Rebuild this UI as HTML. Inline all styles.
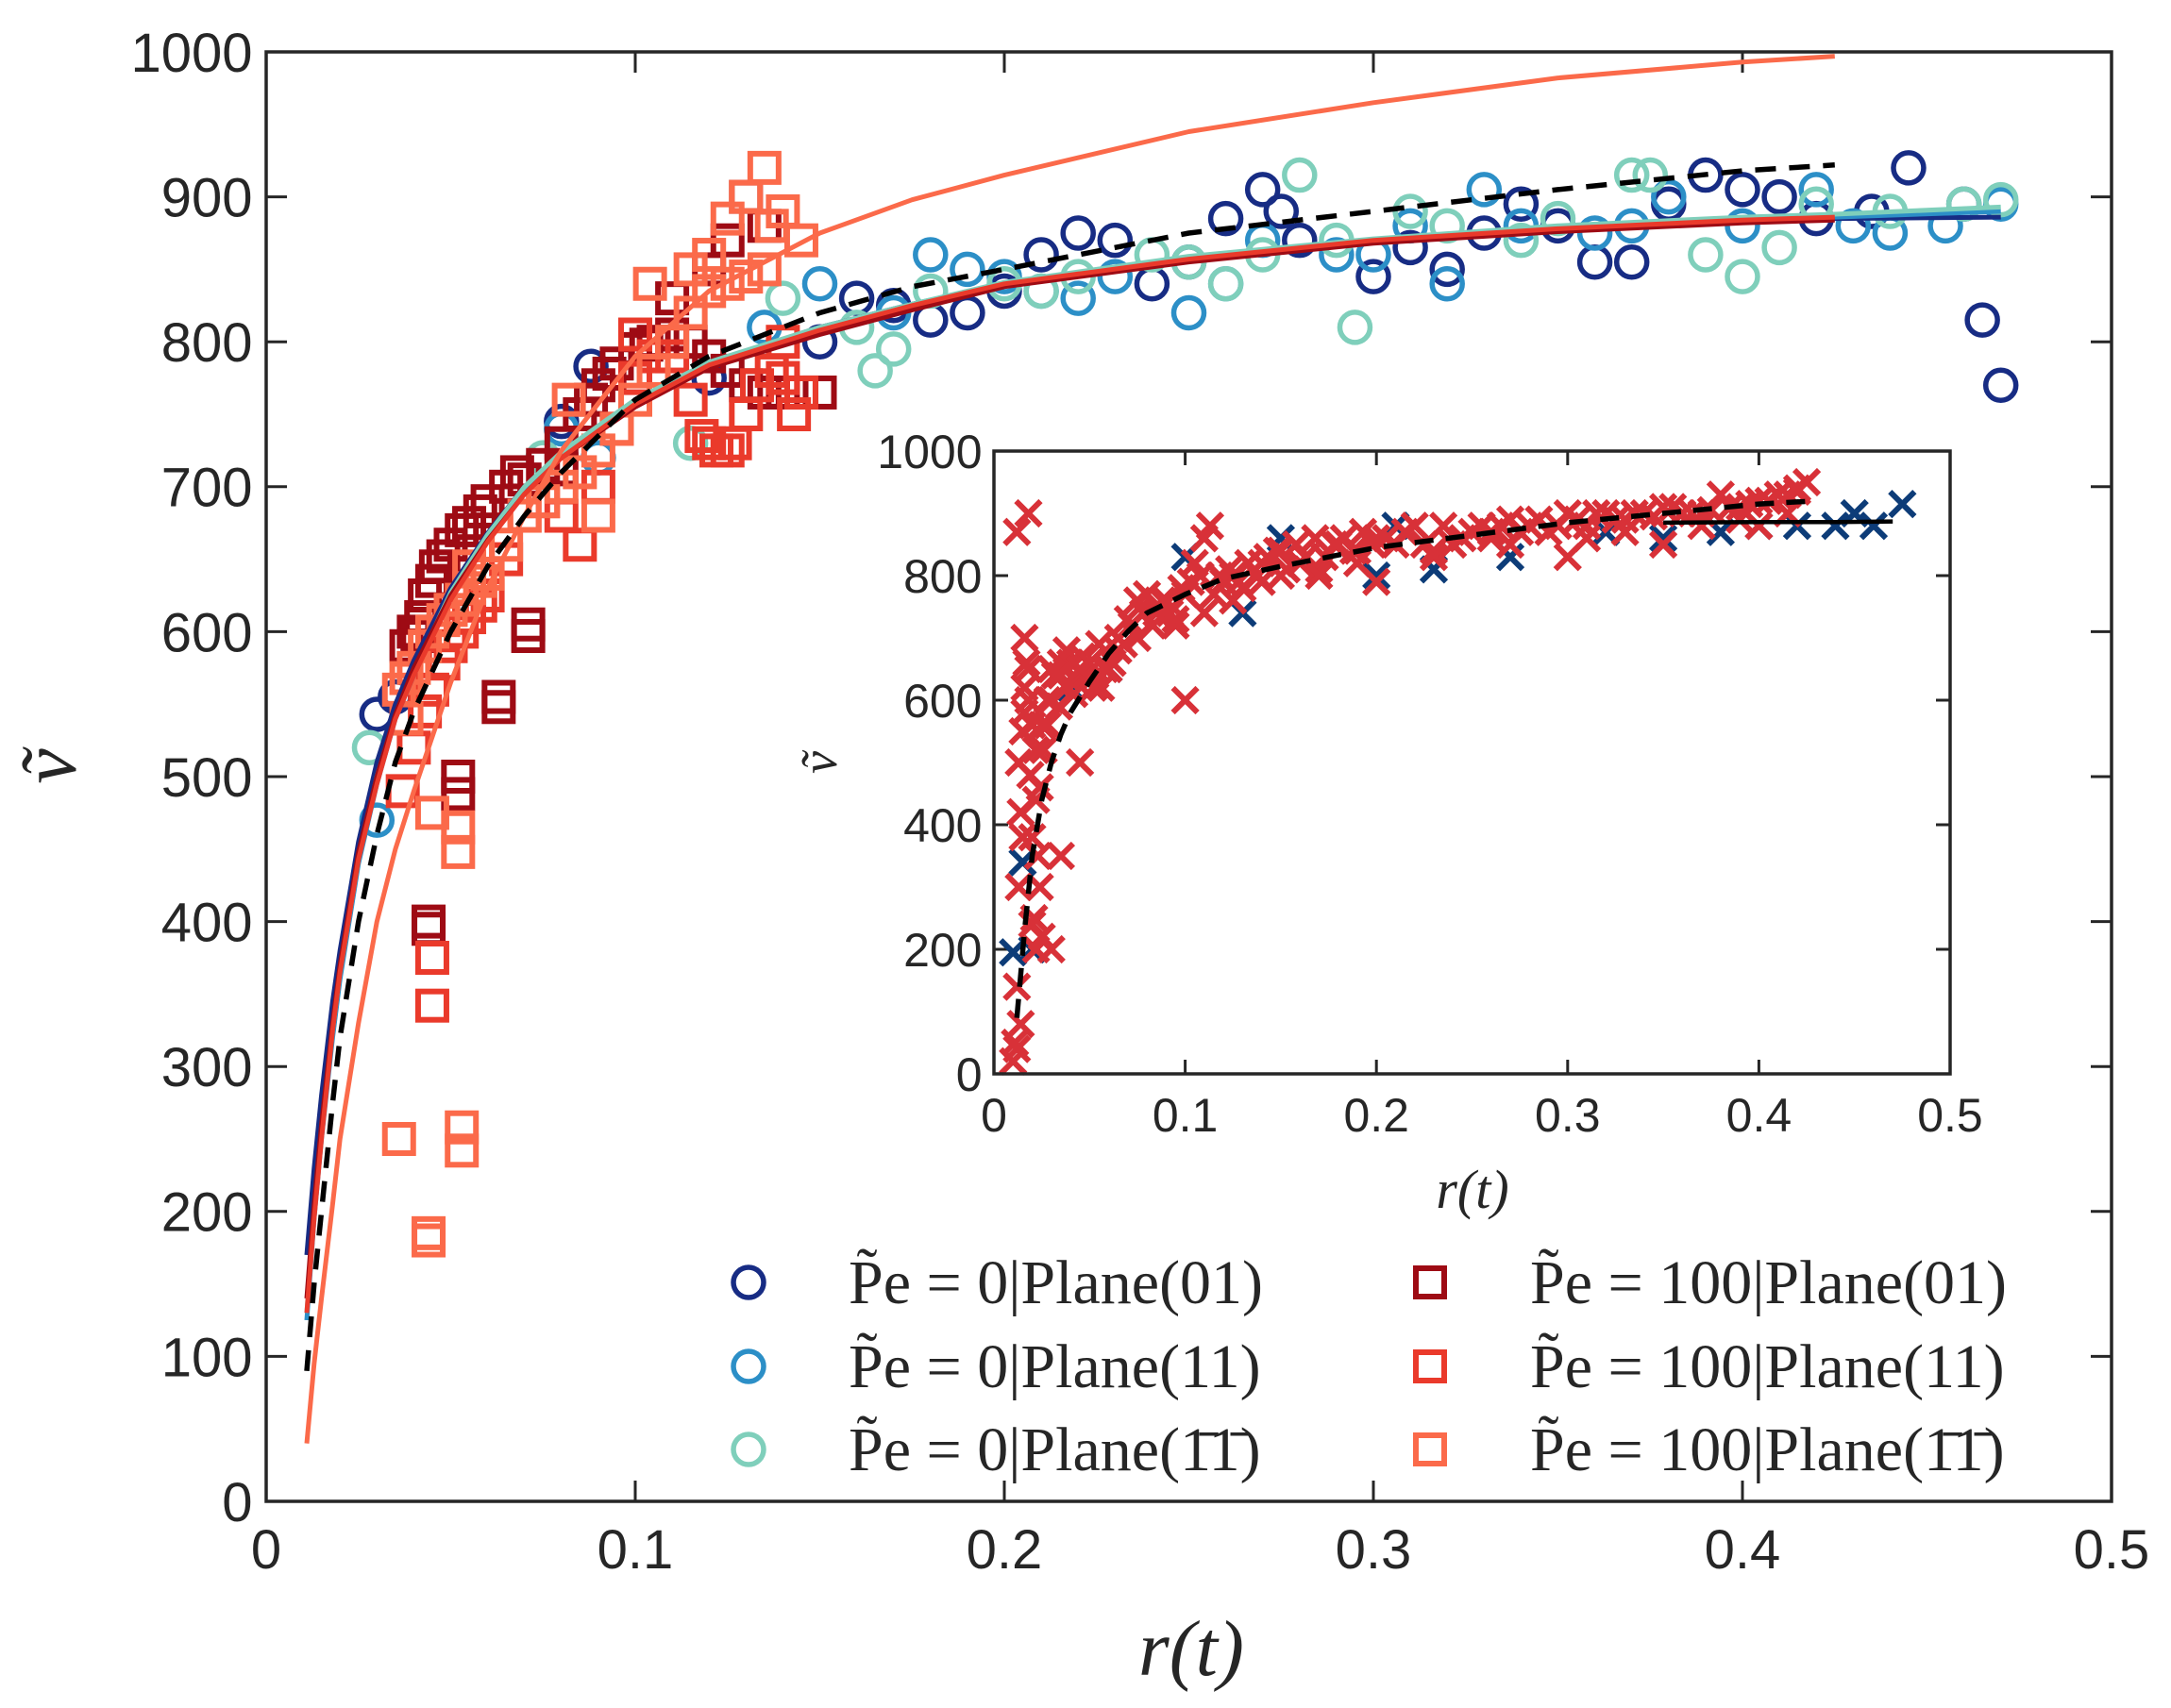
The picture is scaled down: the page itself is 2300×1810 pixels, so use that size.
<!DOCTYPE html>
<html><head><meta charset="utf-8"><style>
html,body{margin:0;padding:0;background:#fff;}
svg{display:block;}
text{font-family:"Liberation Sans",sans-serif;fill:#262626;}
.serif{font-family:"Liberation Serif",serif;}
</style></head><body>
<svg id="chart" width="2300" height="1810" viewBox="0 0 2300 1810" xmlns="http://www.w3.org/2000/svg">
<rect width="2300" height="1810" fill="#fff"/>
<g id="main"></g>
<g id="inset"></g>
<g id="legend"></g>
<text class="serif" font-size="84" font-style="italic" transform="translate(80,812) rotate(-90)" text-anchor="middle">ṽ</text>
<text class="serif" font-size="84" font-style="italic" x="1262" y="1775" text-anchor="middle">r(t)</text>
<text class="serif" font-size="54" font-style="italic" transform="translate(886,808) rotate(-90)" text-anchor="middle">ṽ</text>
<text class="serif" font-size="58" font-style="italic" x="1560" y="1280" text-anchor="middle">r(t)</text>
</svg>
<script>
// ---- data ----
const curveX = [0.011,0.013,0.015,0.018,0.02,0.025,0.03,0.035,0.04,0.05,0.06,0.07,0.08,0.1,0.12,0.15,0.175,0.2,0.25,0.3,0.35,0.4,0.425];
const blueCurveX = [0.011,0.013,0.015,0.018,0.02,0.025,0.03,0.035,0.04,0.05,0.06,0.07,0.08,0.1,0.12,0.15,0.175,0.2,0.25,0.3,0.35,0.4,0.425,0.47];
const dashedFit = [90,150,200,275,320,400,460,510,545,600,645,680,710,760,790,820,838,850,875,890,905,918,922];
const darkBlueFit = [170,230,280,345,380,455,510,550,580,630,668,700,723,760,785,810,826,840,858,870,878,883,885,886];
const blueFit = [125,195,250,320,360,440,495,540,570,625,665,698,722,758,784,808,825,840,858,870,878,884,886,890];
const tealFit = [130,200,255,325,365,443,500,542,572,627,667,700,724,760,786,810,826,841,859,871,880,886,888,893];
const darkRedFit = [140,205,260,330,370,448,500,543,575,625,663,695,720,755,782,805,822,838,855,868,876,882,884];
const redFit = [130,195,250,325,365,443,495,540,570,622,662,695,720,757,784,808,825,840,857,870,878,884,886];
const orangeFit = [40,95,140,205,250,330,400,450,490,565,630,680,725,790,835,875,898,915,945,965,982,993,997];

const pe0Plane01R = [0.03,0.035,0.088,0.08,0.15,0.16,0.18,0.19,0.2,0.21,0.22,0.23,0.24,0.25,0.26,0.27,0.275,0.28,0.3,0.31,0.32,0.33,0.34,0.35,0.36,0.37,0.38,0.39,0.4,0.41,0.42,0.435,0.445,0.46,0.465,0.47,0.12,0.17];
const pe0Plane01V = [543,555,783,745,800,830,815,820,835,860,875,870,840,855,885,905,890,870,845,865,850,875,895,880,855,855,895,915,905,900,885,890,920,895,815,770,775,825];
const pe0Plane11R = [0.03,0.08,0.15,0.17,0.18,0.19,0.2,0.21,0.22,0.23,0.25,0.26,0.27,0.29,0.3,0.31,0.32,0.33,0.34,0.36,0.37,0.38,0.4,0.42,0.43,0.44,0.455,0.47,0.135,0.09];
const pe0Plane11V = [470,740,840,820,860,850,845,835,830,845,820,840,870,860,860,880,840,905,880,875,880,900,880,905,880,875,880,895,810,720];
const pe0PlaneNNR = [0.028,0.075,0.115,0.16,0.165,0.17,0.18,0.2,0.21,0.22,0.24,0.25,0.26,0.27,0.28,0.29,0.295,0.31,0.32,0.34,0.35,0.37,0.375,0.39,0.4,0.41,0.42,0.44,0.46,0.47,0.14];
const pe0PlaneNNV = [520,720,730,810,780,795,835,840,835,845,860,855,840,860,915,870,810,890,880,870,885,915,915,860,845,865,895,890,895,898,830];

const pe100Plane01R = [0.04,0.042,0.043,0.045,0.046,0.048,0.05,0.053,0.055,0.058,0.06,0.065,0.07,0.075,0.08,0.085,0.088,0.09,0.093,0.095,0.1,0.103,0.105,0.11,0.115,0.12,0.125,0.13,0.135,0.14,0.145,0.15,0.125,0.13,0.135,0.063,0.063,0.071,0.071,0.052,0.052,0.044,0.044,0.041,0.08,0.068,0.038,0.11,0.12];
const pe100Plane01V = [600,610,625,635,645,652,660,670,675,683,690,700,705,715,730,750,760,770,778,785,795,798,800,805,800,790,780,770,765,765,765,765,870,900,880,555,548,605,597,500,488,400,395,597,712,710,590,830,850];
const pe100Plane11R = [0.04,0.043,0.045,0.048,0.05,0.053,0.055,0.058,0.06,0.065,0.07,0.075,0.08,0.085,0.09,0.095,0.1,0.105,0.11,0.115,0.118,0.122,0.127,0.13,0.133,0.137,0.14,0.145,0.045,0.045,0.14,0.143,0.037,0.1,0.12,0.125];
const pe100Plane11V = [520,545,560,578,590,600,610,618,625,650,680,690,680,660,700,740,775,790,790,760,735,725,730,750,770,780,775,765,375,342,800,750,490,805,730,725];
const pe100PlaneNNR = [0.036,0.038,0.04,0.043,0.045,0.048,0.05,0.053,0.055,0.058,0.06,0.065,0.07,0.075,0.08,0.085,0.09,0.095,0.1,0.105,0.11,0.115,0.12,0.125,0.13,0.135,0.036,0.044,0.044,0.053,0.053,0.052,0.052,0.045,0.082,0.09,0.104,0.115,0.12,0.125,0.13,0.135,0.137,0.14,0.145,0.038,0.055];
const pe100PlaneNNV = [560,568,575,590,600,608,615,622,630,635,640,660,680,690,700,710,725,740,760,780,800,820,835,840,845,850,250,185,180,258,242,465,448,475,760,680,840,850,860,885,900,920,880,890,870,540,645];

const insetRedR = [0.01,0.011,0.012,0.013,0.014,0.015,0.016,0.017,0.018,0.019,0.02,0.021,0.022,0.023,0.024,0.025,0.026,0.028,0.03,0.032,0.035,0.038,0.04,0.043,0.046,0.05,0.053,0.056,0.06,0.065,0.07,0.075,0.08,0.085,0.09,0.095,0.1,0.105,0.11,0.113,0.12,0.125,0.13,0.14,0.15,0.16,0.17,0.18,0.19,0.2,0.21,0.22,0.23,0.24,0.25,0.26,0.27,0.28,0.29,0.3,0.31,0.32,0.33,0.34,0.35,0.36,0.37,0.38,0.39,0.4,0.41,0.42,0.425,0.012,0.014,0.016,0.018,0.02,0.022,0.024,0.015,0.02,0.03,0.045,0.1,0.15,0.2,0.26,0.3,0.35,0.4,0.012,0.018,0.025,0.035];
const insetRedV = [20,50,140,300,420,550,620,660,600,480,380,250,200,350,460,560,520,600,650,640,660,680,660,630,670,660,640,620,650,700,730,760,770,750,760,720,770,820,860,880,790,800,780,820,840,820,810,850,840,860,850,880,840,850,870,870,890,880,870,900,880,900,890,900,910,900,900,930,910,920,930,940,950,40,80,700,650,560,440,300,380,240,200,500,600,800,790,860,830,850,880,870,900,220,350,580,620];
const insetBandR = [0.022,0.026,0.03,0.034,0.038,0.042,0.048,0.052,0.058,0.062,0.068,0.072,0.078,0.083,0.088,0.092,0.098,0.103,0.108,0.115,0.118,0.123,0.128,0.133,0.138,0.143,0.148,0.153,0.158,0.163,0.168,0.173,0.178,0.183,0.188,0.193,0.198,0.205,0.215,0.225,0.235,0.245,0.255,0.265,0.275,0.285,0.295,0.305,0.315,0.325,0.335,0.345,0.355,0.365,0.375,0.385,0.395,0.405,0.415,0.42,0.415,0.39,0.37,0.33,0.31,0.27,0.23,0.19,0.17,0.14,0.125,0.11,0.095,0.085,0.075,0.065,0.055,0.045,0.035,0.028,0.016,0.013];
const insetBandV = [520,560,600,590,620,610,640,620,650,660,690,720,740,720,760,740,780,790,800,770,800,810,790,820,800,830,840,810,850,830,860,830,850,860,840,870,850,860,870,850,880,860,880,880,870,890,880,890,900,890,900,895,910,900,905,910,915,920,930,935,900,890,880,870,860,850,830,820,800,790,760,740,730,740,700,680,690,650,640,560,580,500];
const insetBlueR = [0.01,0.015,0.02,0.04,0.06,0.1,0.13,0.15,0.2,0.21,0.23,0.27,0.32,0.35,0.38,0.4,0.42,0.44,0.45,0.46,0.475];
const insetBlueV = [195,340,200,620,650,830,740,860,800,880,810,830,870,860,870,880,880,880,900,880,915];
const insetDashR = [0.012,0.014,0.016,0.018,0.02,0.025,0.03,0.035,0.04,0.05,0.06,0.07,0.08,0.1,0.12,0.15,0.2,0.25,0.3,0.35,0.4,0.43];
const insetDashV = [90,160,230,290,350,440,500,545,580,630,675,710,740,770,795,815,845,865,885,900,915,920];
const insetSolidR = [0.35,0.4,0.44,0.47];
const insetSolidV = [885,886,886,887];

const mainXTicks = ["0","0.1","0.2","0.3","0.4","0.5"];
const mainYTicks = ["0","100","200","300","400","500","600","700","800","900","1000"];
const insetXTicks = ["0","0.1","0.2","0.3","0.4","0.5"];
const insetYTicks = ["0","200","400","600","800","1000"];

// ---- drawing ----
const NS = "http://www.w3.org/2000/svg";
function el(tag, attrs, parent){const e=document.createElementNS(NS,tag);for(const k in attrs)e.setAttribute(k,attrs[k]);parent.appendChild(e);return e;}
const M = {l:282,r:2237,t:55,b:1591,x0:0,x1:0.5,y0:0,y1:1000};
const I = {l:1053,r:2066,t:478,b:1138,x0:0,x1:0.5,y0:0,y1:1000};
const sx=(A,v)=>A.l+(v-A.x0)/(A.x1-A.x0)*(A.r-A.l);
const sy=(A,v)=>A.b-(v-A.y0)/(A.y1-A.y0)*(A.b-A.t);

function axes(A,g,xt,yt,fs,tick,pref){
  const bg=el('rect',{x:A.l,y:A.t,width:A.r-A.l,height:A.b-A.t,fill:'#fff'},g);
  
  
  xt.forEach((t,i)=>{const v=A.x0+i*(A.x1-A.x0)/(xt.length-1);const x=sx(A,v);
    el('line',{x1:x,y1:A.b,x2:x,y2:A.b-tick,stroke:'#262626','stroke-width':3},g);
    el('line',{x1:x,y1:A.t,x2:x,y2:A.t+tick,stroke:'#262626','stroke-width':3},g);
    const tx=el('text',{x:x,y:A.b+fs*1.22,'font-size':fs,'text-anchor':'middle'},g);tx.textContent=t;
    
    });
  yt.forEach((t,i)=>{const v=A.y0+i*(A.y1-A.y0)/(yt.length-1);const y=sy(A,v);
    el('line',{x1:A.l,y1:y,x2:A.l+tick,y2:y,stroke:'#262626','stroke-width':3},g);
    el('line',{x1:A.r,y1:y,x2:A.r-tick,y2:y,stroke:'#262626','stroke-width':3},g);
    const tx=el('text',{x:A.l-fs*0.25,y:y+fs*0.36,'font-size':fs,'text-anchor':'end'},g);tx.textContent=t;
    
    });
}
function frame(A,g,pref){const f=el('rect',{x:A.l,y:A.t,width:A.r-A.l,height:A.b-A.t,fill:'none',stroke:'#262626','stroke-width':3.5},g);
  
  }
function line(A,g,xs,ys,color,w,dash,name){
  const d=xs.map((x,i)=>(i?'L':'M')+sx(A,x).toFixed(1)+','+sy(A,ys[i]).toFixed(1)).join(' ');
  const p=el('path',{d:d,fill:'none',stroke:color,'stroke-width':w,'stroke-linejoin':'round'},g);
  if(dash)p.setAttribute('stroke-dasharray',dash);
  
  
}
function circles(A,g,xs,ys,color,name){xs.forEach((x,i)=>{
  const c=el('circle',{cx:sx(A,x),cy:sy(A,ys[i]),r:16,fill:'none',stroke:color,'stroke-width':5.5},g);
  
  });}
function squares(A,g,xs,ys,color,name){xs.forEach((x,i)=>{
  const s=el('rect',{x:sx(A,x)-15,y:sy(A,ys[i])-15,width:30,height:30,fill:'none',stroke:color,'stroke-width':6},g);
  
  });}
function crosses(A,g,xs,ys,color,name){xs.forEach((x,i)=>{
  const cx=sx(A,x),cy=sy(A,ys[i]),h=13;
  const p=el('path',{d:`M${cx-h},${cy-h}L${cx+h},${cy+h}M${cx-h},${cy+h}L${cx+h},${cy-h}`,stroke:color,'stroke-width':6},g);
  
  });}

const C={db:'#172c84',b:'#2c8fc7',t:'#7fcfbb',dr:'#9e0b14',r:'#ea3a2b',o:'#fb6a4a'};
const gm=document.getElementById('main');
axes(M,gm,mainXTicks,mainYTicks,58,22,'main-');
circles(M,gm,pe0Plane01R,pe0Plane01V,C.db,'pe0-plane01-point');
circles(M,gm,pe0Plane11R,pe0Plane11V,C.b,'pe0-plane11-point');
circles(M,gm,pe0PlaneNNR,pe0PlaneNNV,C.t,'pe0-plane-bar11-point');
squares(M,gm,pe100Plane01R,pe100Plane01V,C.dr,'pe100-plane01-point');
squares(M,gm,pe100Plane11R,pe100Plane11V,C.r,'pe100-plane11-point');
squares(M,gm,pe100PlaneNNR,pe100PlaneNNV,C.o,'pe100-plane-bar11-point');
line(M,gm,blueCurveX,darkBlueFit,C.db,5,null,'pe0-plane01-fit');
line(M,gm,blueCurveX,blueFit,C.b,5,null,'pe0-plane11-fit');
line(M,gm,blueCurveX,tealFit,C.t,5,null,'pe0-plane-bar11-fit');
line(M,gm,curveX,darkRedFit,C.dr,5,null,'pe100-plane01-fit');
line(M,gm,curveX,redFit,C.r,5,null,'pe100-plane11-fit');
line(M,gm,curveX,orangeFit,C.o,5,null,'pe100-plane-bar11-fit');
line(M,gm,curveX,dashedFit,'#000',5.5,'22,14','overall-fit-dashed');
frame(M,gm,'main-');

const gi=document.getElementById('inset');
axes(I,gi,insetXTicks,insetYTicks,50,15,'inset-');
crosses(I,gi,insetBlueR,insetBlueV,'#0d3c78','inset-pe0-point');
crosses(I,gi,insetRedR,insetRedV,'#d83138','inset-pe100-point');
crosses(I,gi,insetBandR,insetBandV,'#d83138','inset-pe100-point');
line(I,gi,insetSolidR,insetSolidV,'#000',4.5,null,'inset-solid-fit');
line(I,gi,insetDashR,insetDashV,'#000',5.5,'20,13','inset-dashed-fit');
frame(I,gi,'inset-');

// legend
const gl=document.getElementById('legend');
const legItems=[
 {k:'c',c:C.db,x:793,y:1359,t:'0|Plane(01)',n:'legend-pe0-plane01'},
 {k:'c',c:C.b,x:793,y:1448,t:'0|Plane(11)',n:'legend-pe0-plane11'},
 {k:'c',c:C.t,x:793,y:1536,t:'0|Plane(1̄1̄)',n:'legend-pe0-plane-bar11'},
 {k:'s',c:C.dr,x:1515,y:1359,t:'100|Plane(01)',n:'legend-pe100-plane01'},
 {k:'s',c:C.r,x:1515,y:1448,t:'100|Plane(11)',n:'legend-pe100-plane11'},
 {k:'s',c:C.o,x:1515,y:1536,t:'100|Plane(1̄1̄)',n:'legend-pe100-plane-bar11'}];
legItems.forEach(it=>{
  const g=el('g',{},gl);
  
  
  if(it.k==='c') el('circle',{cx:it.x,cy:it.y,r:16,fill:'none',stroke:it.c,'stroke-width':5.5},g);
  else el('rect',{x:it.x-15,y:it.y-15,width:30,height:30,fill:'none',stroke:it.c,'stroke-width':6},g);
  const tx=el('text',{x:it.x+106,y:it.y+22,'font-size':66,class:'serif'},g);
  tx.textContent='P̃e = '+it.t;
});
</script>
</body></html>
